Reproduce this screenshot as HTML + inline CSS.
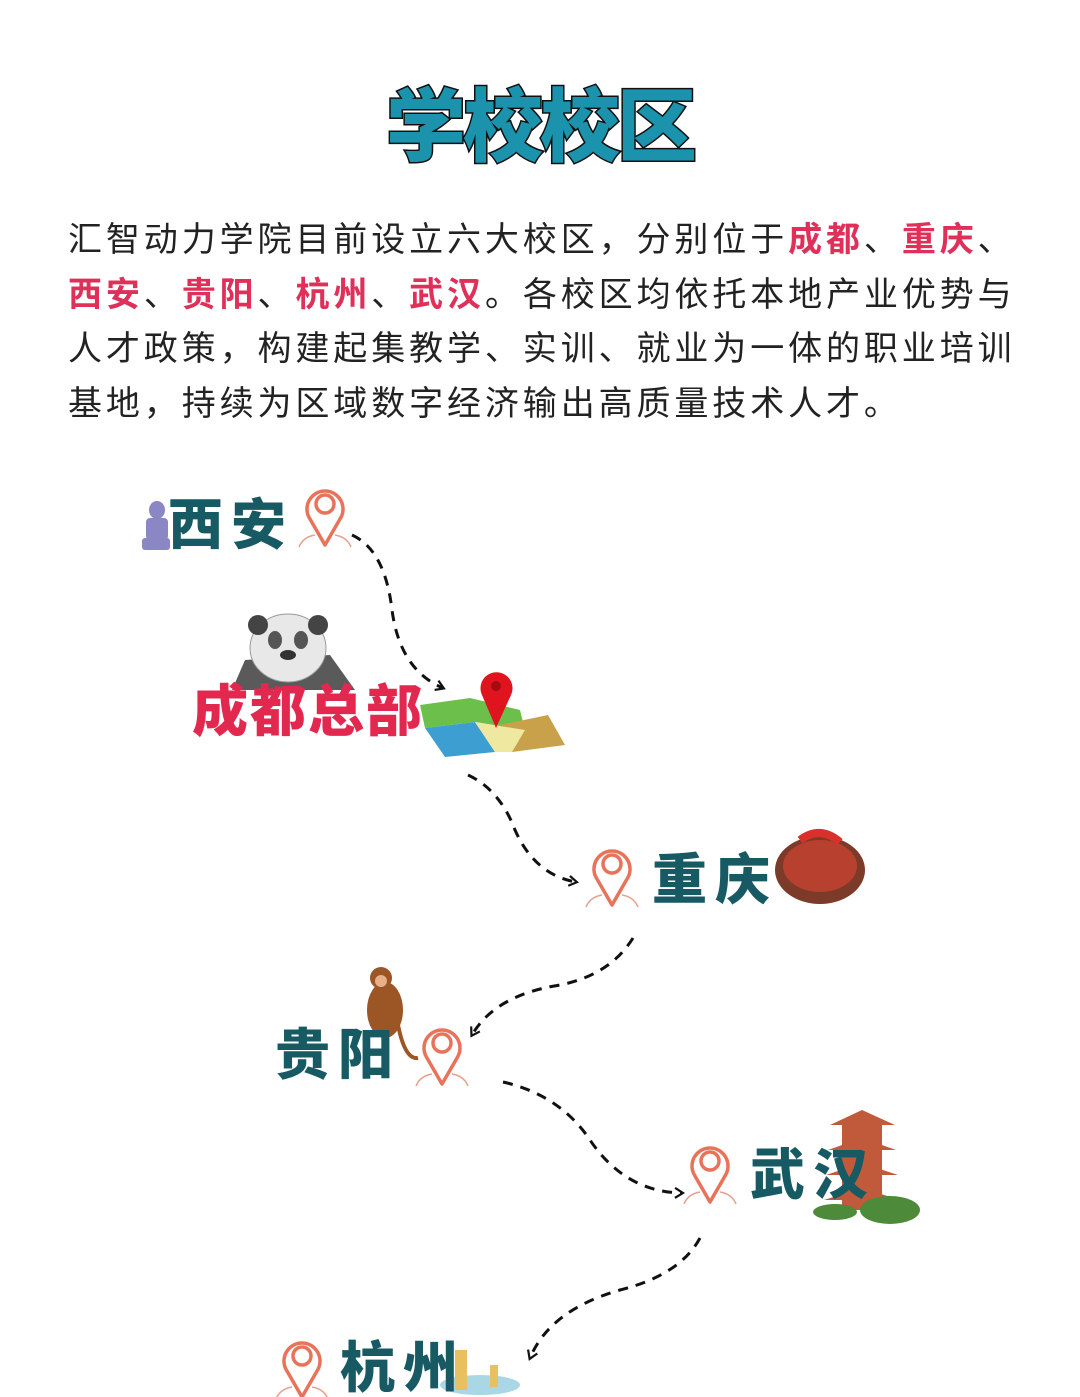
<!DOCTYPE html>
<html><head><meta charset="utf-8"><style>
body{margin:0;background:#fff;}
#c{position:relative;width:1080px;height:1397px;overflow:hidden;background:#fff;font-family:"Liberation Sans","Noto Sans CJK SC",sans-serif;}
.t{position:absolute;white-space:nowrap;}
.title{left:0;width:1080px;text-align:center;top:78px;font-size:80px;font-weight:900;color:#1b93ad;-webkit-text-stroke:3px #111;paint-order:stroke fill;letter-spacing:-3px;line-height:100px;}
.body{left:68px;top:213px;font-size:34px;letter-spacing:3.9px;line-height:54.5px;color:#222;}
.r{color:#e0305a;font-weight:bold;}
.city{font-size:55px;font-weight:900;color:#175a63;letter-spacing:8px;line-height:60px;}
.red{color:#e3284f;letter-spacing:2px;}
</style></head><body><div id="c">
<div class="t title">学校校区</div>
<div class="t body">汇智动力学院目前设立六大校区，分别位于<span class="r">成都</span>、<span class="r">重庆</span>、<br><span class="r">西安</span>、<span class="r">贵阳</span>、<span class="r">杭州</span>、<span class="r">武汉</span>。各校区均依托本地产业优势与<br>人才政策，构建起集教学、实训、就业为一体的职业培训<br>基地，持续为区域数字经济输出高质量技术人才。</div>

<svg width="1080" height="1397" style="position:absolute;left:0;top:0">
<defs>
<g id="pin">
<path d="M20 62 L5 36 A18 18 0 1 1 35 36 Z" fill="none" stroke="#e8735a" stroke-width="3.5" stroke-linejoin="round"/>
<circle cx="20" cy="21" r="9" fill="none" stroke="#e8735a" stroke-width="3.5"/>
<path d="M-6 64 Q-2 54 10 52 M30 52 Q42 54 46 64" fill="none" stroke="#e8a090" stroke-width="1.5"/>
</g>
<marker id="a" markerWidth="12" markerHeight="12" refX="8" refY="6" orient="auto" markerUnits="userSpaceOnUse"><path d="M1 1 L9 6 L1 11" fill="none" stroke="#111" stroke-width="2.2"/></marker>
</defs>
<g fill="none" stroke="#111" stroke-width="3" stroke-dasharray="10 8" marker-end="url(#a)">
<path d="M352 535 Q385 550 392 610 Q400 670 443 688"/>
<path d="M468 775 Q500 790 515 830 Q535 875 576 882"/>
<path d="M633 938 Q610 975 560 985 Q495 995 472 1035"/>
<path d="M503 1082 Q560 1095 590 1140 Q625 1192 682 1193"/>
<path d="M700 1238 Q680 1275 620 1290 Q550 1310 530 1358"/>
</g>
<use href="#pin" x="305" y="483"/>
<use href="#pin" x="592" y="843"/>
<use href="#pin" x="422" y="1022"/>
<use href="#pin" x="690" y="1140"/>
<use href="#pin" x="282" y="1335"/>
<!-- warrior -->
<g fill="#8a87c4"><ellipse cx="157" cy="510" rx="8" ry="9"/><rect x="146" y="518" width="22" height="22" rx="4"/><rect x="142" y="538" width="28" height="12" rx="3"/></g>
<!-- panda -->
<path d="M232 690 L245 660 L330 655 L355 690 Z" fill="#5a5a5a"/>
<ellipse cx="288" cy="648" rx="38" ry="34" fill="#e8e8e8" stroke="#999"/>
<circle cx="258" cy="625" r="10" fill="#444"/><circle cx="318" cy="625" r="10" fill="#444"/>
<ellipse cx="275" cy="640" rx="7" ry="9" fill="#555"/><ellipse cx="301" cy="640" rx="7" ry="9" fill="#555"/>
<ellipse cx="288" cy="655" rx="8" ry="5" fill="#333"/>
<!-- map -->
<polygon points="420,705 470,698 520,710 525,730 475,722 425,728" fill="#6cbf4a"/>
<polygon points="425,728 475,722 495,752 445,757" fill="#3d9fd1"/>
<polygon points="500,725 548,715 565,745 512,752" fill="#c9a14a"/>
<polygon points="475,722 525,730 512,752 495,752" fill="#efe8a0"/>
<path d="M496 728 L482 695 A16 16 0 1 1 511 695 Z" fill="#e0141e"/><circle cx="496" cy="686" r="5" fill="#a40c12"/>
<!-- hotpot -->
<ellipse cx="820" cy="870" rx="45" ry="34" fill="#7b3b28"/><ellipse cx="820" cy="866" rx="37" ry="26" fill="#b8402e"/>
<path d="M800 840 Q820 825 840 842" stroke="#d8302a" stroke-width="8" fill="none"/>
<!-- monkey -->
<ellipse cx="385" cy="1010" rx="18" ry="28" fill="#9c5524"/><circle cx="381" cy="978" r="11" fill="#9c5524"/><circle cx="381" cy="981" r="6" fill="#e6b08a"/>
<path d="M398 1025 Q405 1060 418 1058" stroke="#9c5524" stroke-width="4" fill="none"/>
<!-- tower -->
<g fill="#c05a3a"><rect x="842" y="1120" width="40" height="90"/><polygon points="830,1125 862,1110 895,1125"/><polygon points="828,1150 862,1138 896,1150"/><polygon points="826,1175 862,1163 898,1175"/><polygon points="824,1200 862,1188 900,1200"/></g>
<ellipse cx="890" cy="1210" rx="30" ry="14" fill="#4d8a3a"/><ellipse cx="835" cy="1212" rx="22" ry="8" fill="#4d8a3a"/>
<!-- hangzhou -->
<ellipse cx="480" cy="1385" rx="40" ry="10" fill="#a9d7e6"/>
<rect x="455" y="1350" width="12" height="40" fill="#e8c060"/><rect x="490" y="1365" width="8" height="22" fill="#e8c060"/>
</svg>

<div class="t city" style="left:168px;top:495px">西安</div>
<div class="t city red" style="left:192px;top:682px;font-size:56px">成都总部</div>
<div class="t city" style="left:652px;top:850px">重庆</div>
<div class="t city" style="left:275px;top:1025px">贵阳</div>
<div class="t city" style="left:750px;top:1145px">武汉</div>
<div class="t city" style="left:340px;top:1338px">杭州</div>
</div></body></html>
